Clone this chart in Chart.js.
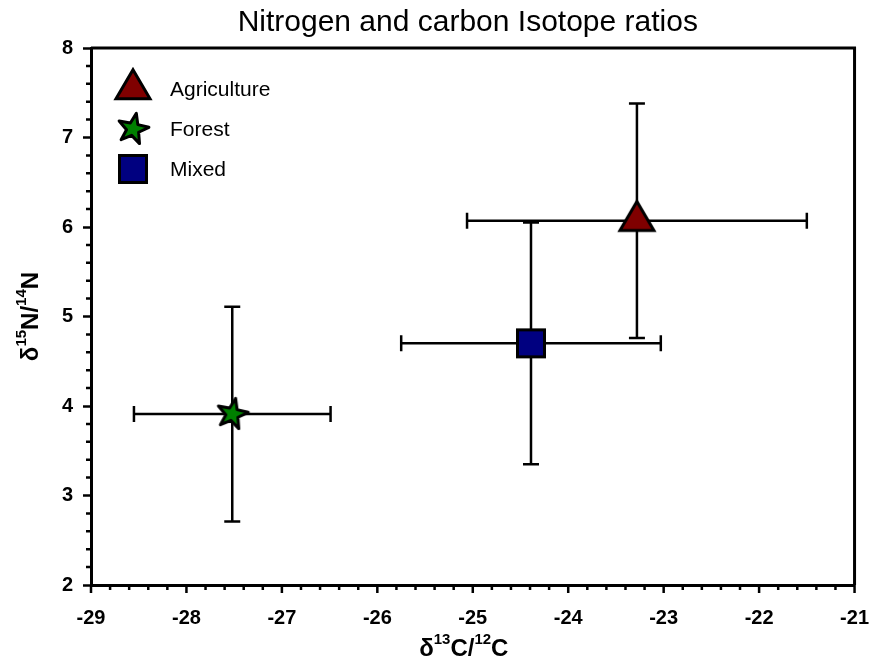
<!DOCTYPE html>
<html>
<head>
<meta charset="utf-8">
<script src="https://cdn.jsdelivr.net/npm/chart.js@4"></script>
<style>
  html, body { margin: 0; padding: 0; background: #fff; }
  #wrap { width: 869px; height: 662px; }
</style>
</head>
<body>
<div id="wrap"><canvas id="isoChart" width="869" height="662"></canvas></div>
<script>
// ===========================
// Data
// ===========================

const chartTitle = 'Nitrogen and carbon Isotope ratios';
const groups = ['Agriculture', 'Forest', 'Mixed'];
const carbonMean = [-23.28, -27.52, -24.39];   // d13C/12C
const carbonErr = [1.78, 1.03, 1.36];
const nitrogenMean = [6.07, 3.91, 4.70];       // d15N/14N
const nitrogenErr = [1.31, 1.20, 1.35];
const xTicks = [-29, -28, -27, -26, -25, -24, -23, -22, -21];
const yTicks = [2, 3, 4, 5, 6, 7, 8];
// axis titles: [text, superscript?]
const xTitleParts = [['δ', false], ['13', true], ['C/', false], ['12', true], ['C', false]];
const yTitleParts = [['δ', false], ['15', true], ['N/', false], ['14', true], ['N', false]];

const FONT = "'Liberation Sans', Arial, Helvetica, sans-serif";

// ===========================
// Marker images
// ===========================

function makeMarker(shape, fill) {
    const c = document.createElement('canvas');
    const size = shape === 'square' ? 34 : (shape === 'star' ? 40 : 42);
    c.width = size;
    c.height = shape === 'triangle' ? 44 : size;
    const g = c.getContext('2d');
    const cx = c.width / 2, cy = c.height / 2;
    g.fillStyle = fill;
    g.strokeStyle = '#000';
    g.lineWidth = 3;
    g.lineJoin = 'miter';
    g.beginPath();
    if (shape === 'triangle') {
        g.moveTo(cx, cy - 19.3);
        g.lineTo(cx + 17, cy + 9.7);
        g.lineTo(cx - 17, cy + 9.7);
        g.closePath();
    } else if (shape === 'square') {
        g.rect(cx - 13.5, cy - 13.5, 27, 27);
    } else {
        const rot = 12 * Math.PI / 180;
        for (let i = 0; i < 10; i++) {
            const r = i % 2 === 0 ? 16 : 6.5;
            const a = -Math.PI / 2 + rot + i * Math.PI / 5;
            const px = cx + r * Math.cos(a), py = cy + r * Math.sin(a);
            if (i === 0) g.moveTo(px, py); else g.lineTo(px, py);
        }
        g.closePath();
        g.lineJoin = 'round';
    }
    g.fill();
    g.stroke();
    return c;
}

const markers = [
    makeMarker('triangle', '#800000'),
    makeMarker('star', '#008000'),
    makeMarker('square', '#000080')
];

// ===========================
// Plugins
// ===========================

// error bars drawn under the markers
const errorBars = {
    id: 'errorBars',
    beforeDatasetsDraw(chart) {
        const ctx = chart.ctx;
        const xs = chart.scales.x, ys = chart.scales.y;
        const cap = 8;
        ctx.save();
        ctx.strokeStyle = '#000';
        ctx.lineWidth = 2.5;
        groups.forEach((g, i) => {
            const px = xs.getPixelForValue(carbonMean[i]);
            const py = ys.getPixelForValue(nitrogenMean[i]);
            const x0 = xs.getPixelForValue(carbonMean[i] - carbonErr[i]);
            const x1 = xs.getPixelForValue(carbonMean[i] + carbonErr[i]);
            const y0 = ys.getPixelForValue(nitrogenMean[i] - nitrogenErr[i]);
            const y1 = ys.getPixelForValue(nitrogenMean[i] + nitrogenErr[i]);
            ctx.beginPath();
            ctx.moveTo(x0, py); ctx.lineTo(x1, py);
            ctx.moveTo(x0, py - cap); ctx.lineTo(x0, py + cap);
            ctx.moveTo(x1, py - cap); ctx.lineTo(x1, py + cap);
            ctx.moveTo(px, y0); ctx.lineTo(px, y1);
            ctx.moveTo(px - cap, y0); ctx.lineTo(px + cap, y0);
            ctx.moveTo(px - cap, y1); ctx.lineTo(px + cap, y1);
            ctx.stroke();
        });
        ctx.restore();
    }
};

// top/right frame, x ticks and minor ticks
const frameAndMinor = {
    id: 'frameAndMinor',
    afterDraw(chart) {
        const ctx = chart.ctx;
        const a = chart.chartArea;
        const xs = chart.scales.x, ys = chart.scales.y;
        ctx.save();
        ctx.strokeStyle = '#000';
        ctx.lineWidth = 3;
        ctx.beginPath();
        ctx.moveTo(a.left, a.top); ctx.lineTo(a.right, a.top); ctx.lineTo(a.right, a.bottom);
        ctx.stroke();
        ctx.lineWidth = 2.5;
        ctx.beginPath();
        for (let k = 0; k <= (xTicks.length - 1) * 5; k++) {
            const px = xs.getPixelForValue(xTicks[0] + k * 0.2);
            ctx.moveTo(px, a.bottom); ctx.lineTo(px, a.bottom + (k % 5 === 0 ? 8 : 5));
        }
        for (let k = 0; k < (yTicks.length - 1) * 5; k++) {
            if (k % 5 === 0) continue;
            const py = ys.getPixelForValue(yTicks[0] + k * 0.2);
            ctx.moveTo(a.left, py); ctx.lineTo(a.left - 5, py);
        }
        ctx.stroke();
        ctx.restore();
    }
};

// axis titles with real superscripts
function drawSupTitle(ctx, parts, cx, cy) {
    const mainFont = 'bold 24px ' + FONT;
    const supFont = 'bold 15px ' + FONT;
    let total = 0;
    parts.forEach(p => {
        ctx.font = p[1] ? supFont : mainFont;
        total += ctx.measureText(p[0]).width;
    });
    let x = cx - total / 2;
    parts.forEach(p => {
        ctx.font = p[1] ? supFont : mainFont;
        ctx.fillText(p[0], x, p[1] ? cy - 9 : cy);
        x += ctx.measureText(p[0]).width;
    });
}

const titles = {
    id: 'titles',
    afterDraw(chart) {
        const ctx = chart.ctx;
        const a = chart.chartArea;
        const mid = (a.left + a.right) / 2;
        ctx.save();
        ctx.fillStyle = '#000';
        ctx.textBaseline = 'middle';
        ctx.textAlign = 'center';
        ctx.font = '30px ' + FONT;
        ctx.fillText(chartTitle, mid - 5, 23);
        ctx.textAlign = 'left';
        drawSupTitle(ctx, xTitleParts, mid - 9, 649);
        ctx.translate(31, (a.top + a.bottom) / 2);
        ctx.rotate(-Math.PI / 2);
        drawSupTitle(ctx, yTitleParts, 0, 0);
        ctx.restore();
    }
};

// legend inside the plot, top-left
const innerLegend = {
    id: 'innerLegend',
    afterDraw(chart) {
        const ctx = chart.ctx;
        const a = chart.chartArea;
        ctx.save();
        ctx.font = '21px ' + FONT;
        ctx.fillStyle = '#000';
        ctx.textBaseline = 'middle';
        chart.data.datasets.forEach((ds, i) => {
            const cy = a.top + 41 + i * 40;
            const img = ds.pointStyle;
            ctx.drawImage(img, a.left + 42 - img.width / 2, cy - img.height / 2);
            ctx.fillText(ds.label, a.left + 79, cy + 1);
        });
        ctx.restore();
    }
};

// ===========================
// Chart
// ===========================

function initIsotopeChart() {
    const ctx = document.getElementById('isoChart');
    if (!ctx) return;

    new Chart(ctx, {
        type: 'scatter',
        data: {
            datasets: groups.map((g, i) => ({
                label: g,
                data: [{ x: carbonMean[i], y: nitrogenMean[i] }],
                pointStyle: markers[i],
                pointRadius: 16,
                pointHoverRadius: 16
            }))
        },
        options: {
            responsive: false,
            animation: false,
            layout: {
                autoPadding: false,
                padding: { left: 0, right: 0, top: 48, bottom: 0 }
            },
            plugins: {
                legend: { display: false },
                tooltip: { enabled: false },
                title: { display: false }
            },
            scales: {
                x: {
                    type: 'linear',
                    min: xTicks[0],
                    max: xTicks[xTicks.length - 1],
                    afterBuildTicks: (scale) => { scale.ticks = xTicks.map(v => ({ value: v })); },
                    afterFit: (scale) => { scale.height = 77; },
                    grid: {
                        display: true,
                        drawOnChartArea: false,
                        drawTicks: true,
                        tickLength: 21,
                        tickWidth: 2.5,
                        tickColor: 'rgba(0,0,0,0)'
                    },
                    border: { color: '#000', width: 3 },
                    ticks: {
                        color: '#000',
                        padding: 0,
                        maxRotation: 0,
                        font: { family: FONT, size: 20, weight: 'bold' }
                    },
                    title: { display: false }
                },
                y: {
                    type: 'linear',
                    min: yTicks[0],
                    max: yTicks[yTicks.length - 1],
                    afterBuildTicks: (scale) => { scale.ticks = yTicks.map(v => ({ value: v })); },
                    afterFit: (scale) => { scale.width = 91; },
                    grid: {
                        display: true,
                        drawOnChartArea: false,
                        drawTicks: true,
                        tickLength: 8,
                        tickWidth: 2.5,
                        tickColor: '#000'
                    },
                    border: { color: '#000', width: 3 },
                    ticks: {
                        color: '#000',
                        padding: 10,
                        font: { family: FONT, size: 20, weight: 'bold' }
                    },
                    title: { display: false }
                }
            }
        },
        plugins: [errorBars, frameAndMinor, titles, innerLegend]
    });
}

window.addEventListener('load', initIsotopeChart);
</script>
</body>
</html>
